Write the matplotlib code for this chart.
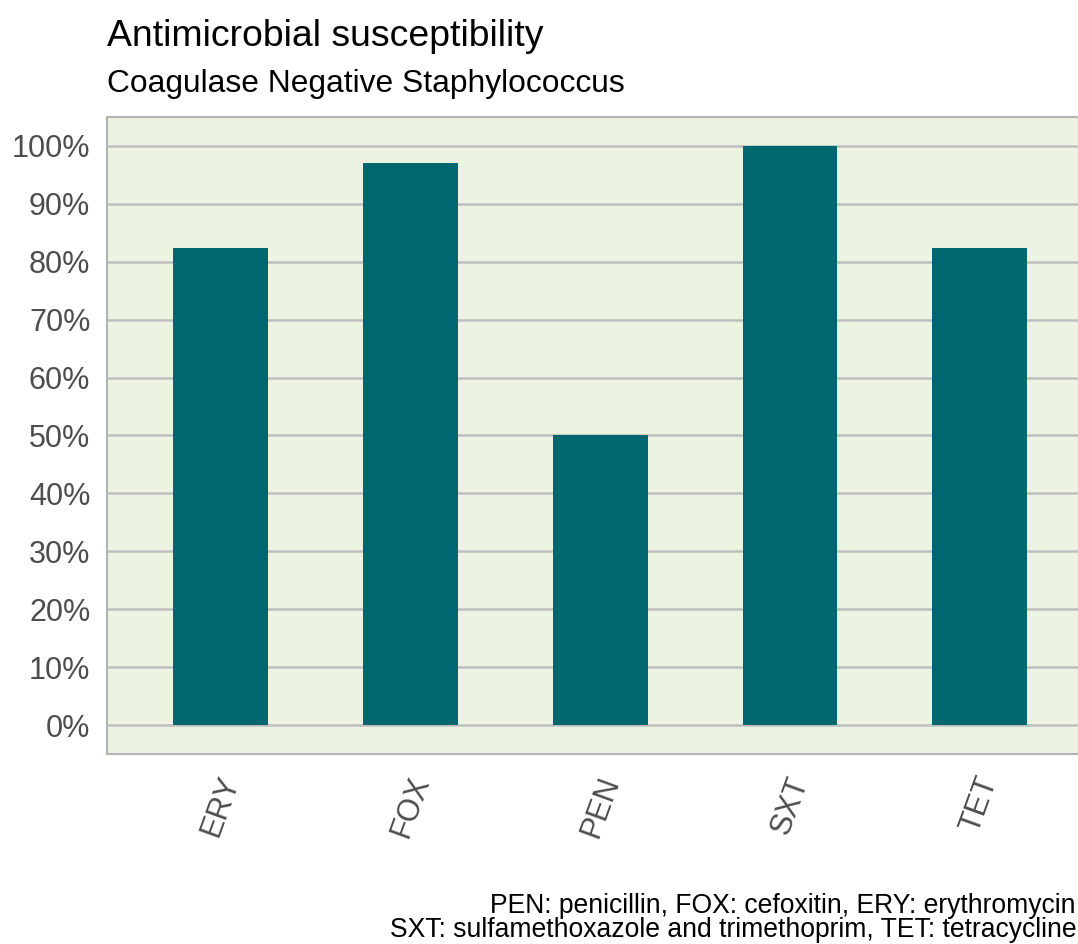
import matplotlib
matplotlib.use("Agg")
import matplotlib.pyplot as plt
from matplotlib.ticker import FuncFormatter

plt.rcParams['font.family'] = ['Liberation Sans', 'DejaVu Sans']

antibiotics = ["ERY", "FOX", "PEN", "SXT", "TET"]
susceptible_pct = [82.35, 97.06, 50.0, 100.0, 82.35]
yticks = [0, 10, 20, 30, 40, 50, 60, 70, 80, 90, 100]

title = "Antimicrobial susceptibility"
subtitle = "Coagulase Negative Staphylococcus"
caption1 = "PEN: penicillin, FOX: cefoxitin, ERY: erythromycin"
caption2 = "SXT: sulfamethoxazole and trimethoprim, TET: tetracycline"

W, H = 1078, 944
fig = plt.figure(figsize=(W / 100, H / 100), dpi=100)
fig.patch.set_facecolor("white")

left, right, top, bottom = 107, 1093.5, 117, 754
ax = fig.add_axes([left / W, 1 - bottom / H, (right - left) / W, (bottom - top) / H])
ax.set_facecolor("#EDF3E1")

x = list(range(1, len(antibiotics) + 1))
ax.bar(x, susceptible_pct, width=0.5, color="#00666F", zorder=3)

ax.set_xlim(0.4, len(antibiotics) + 0.6)
ax.set_ylim(-5, 105)
ax.set_yticks(yticks)
ax.yaxis.set_major_formatter(FuncFormatter(lambda v, p: f"{int(v)}%"))
ax.set_xticks(x)
ax.set_xticklabels(antibiotics, rotation=70, ha="center", va="top")

ax.grid(axis="y", color="#BEBEBE", linewidth=1.8, zorder=1)
ax.grid(axis="x", visible=False)
ax.tick_params(axis="both", length=0, labelsize=22, colors="#4D4D4D")
ax.tick_params(axis="y", pad=12)
ax.tick_params(axis="x", pad=13)

for side in ["left", "bottom", "top"]:
    ax.spines[side].set_color("#B3B3B3")
    ax.spines[side].set_linewidth(1.5)
ax.spines["right"].set_visible(False)

fig.text(107 / W, 1 - 46 / H, title, fontsize=26.9, color="black", ha="left", va="baseline")
fig.text(107 / W, 1 - 92 / H, subtitle, fontsize=22.9, color="black", ha="left", va="baseline")
fig.text(1075 / W, 1 - 913 / H, caption1, fontsize=19.1, color="black", ha="right", va="baseline")
fig.text(390 / W, 1 - 937 / H, caption2, fontsize=19.1, color="black", ha="left", va="baseline")

fig.savefig("out.png", dpi=100)
